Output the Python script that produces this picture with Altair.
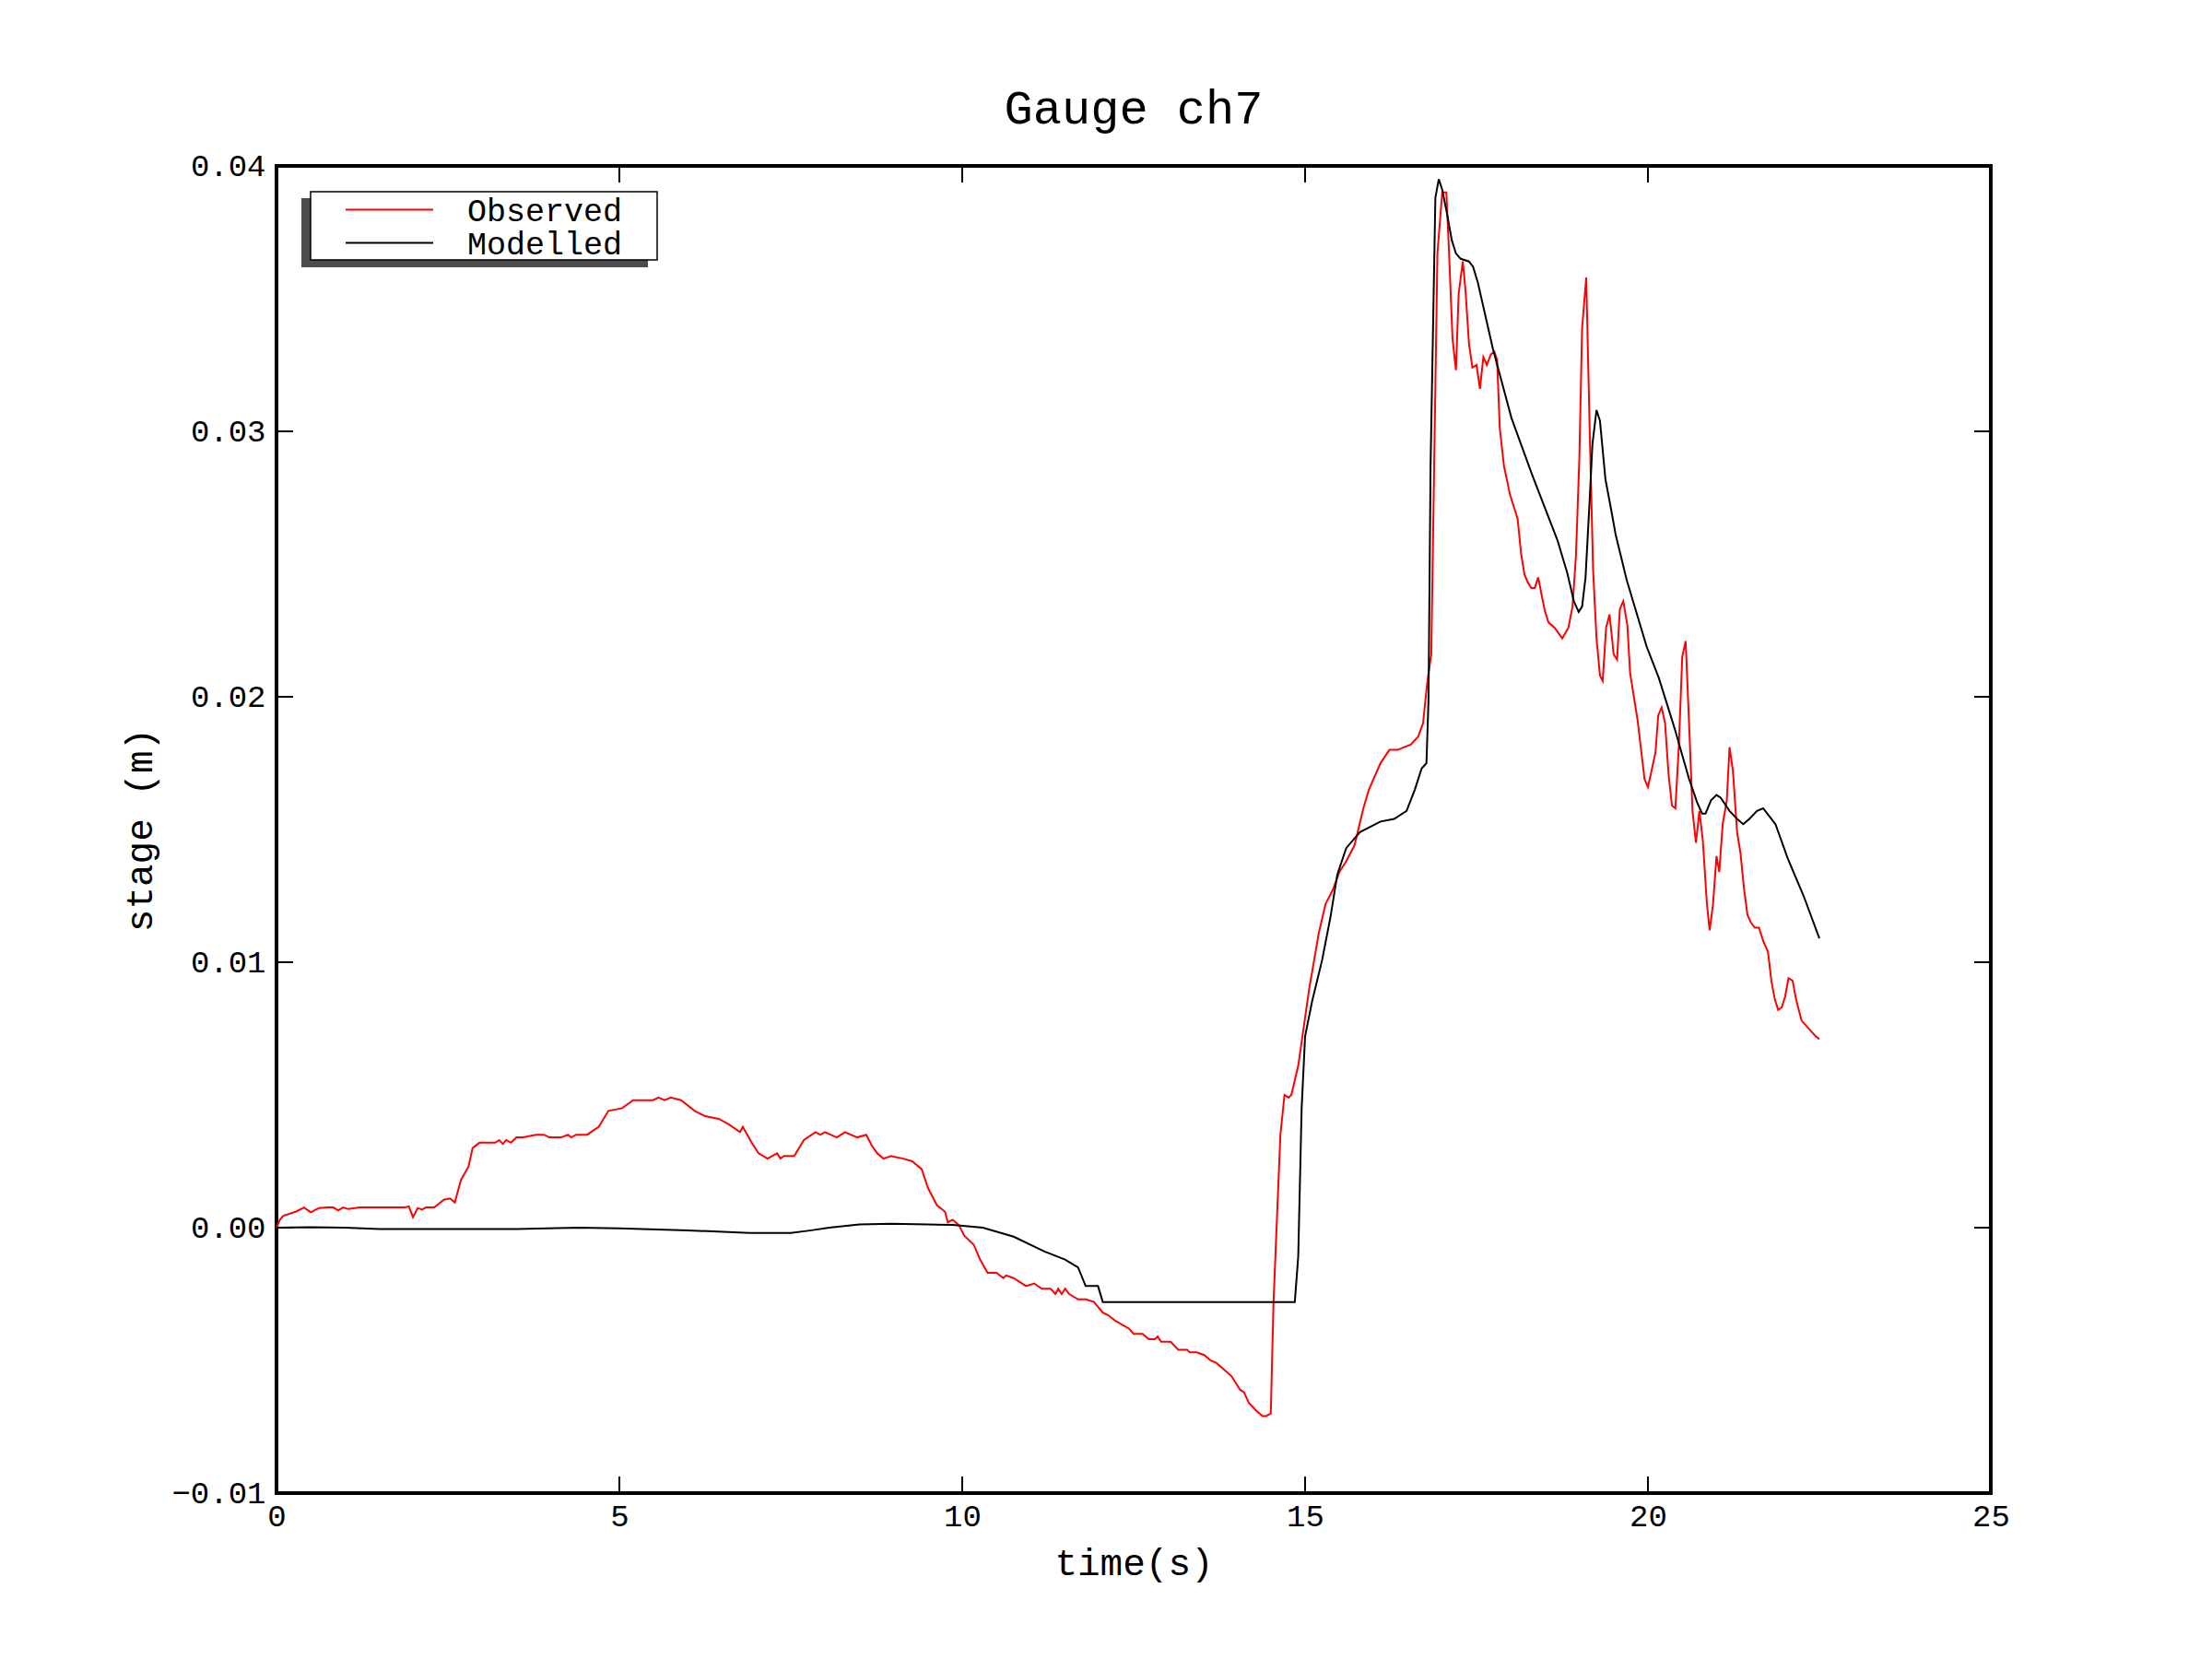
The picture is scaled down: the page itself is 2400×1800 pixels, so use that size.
import altair as alt
import pandas as pd

# ---------------- data ----------------
obs_t = [0.0, 0.05, 0.1, 0.28, 0.4, 0.5, 0.62, 0.75, 0.83, 0.9, 0.97, 1.05, 1.21, 1.86, 1.93, 1.99,
         2.06, 2.12, 2.18, 2.3, 2.44, 2.53, 2.6, 2.69, 2.8, 2.86, 2.96, 3.19, 3.25, 3.3, 3.35, 3.42,
         3.5, 3.6, 3.78, 3.9, 3.98, 4.15, 4.25, 4.3, 4.37, 4.45, 4.53, 4.7, 4.84, 5.04, 5.2, 5.49,
         5.57, 5.66, 5.75, 5.9, 6.1, 6.25, 6.45, 6.59, 6.76, 6.8, 6.93, 7.03, 7.16, 7.3, 7.35, 7.4,
         7.55, 7.69, 7.86, 7.93, 8.0, 8.17, 8.29, 8.47, 8.6, 8.68, 8.76, 8.85, 8.96, 9.14, 9.27,
         9.41, 9.5, 9.63, 9.75, 9.79, 9.86, 9.95, 10.03, 10.17, 10.26, 10.37, 10.5, 10.6, 10.64,
         10.75, 10.93, 11.05, 11.16, 11.29, 11.36, 11.4, 11.45, 11.5, 11.56, 11.69, 11.8, 11.92,
         12.05, 12.13, 12.23, 12.43, 12.5, 12.63, 12.72, 12.81, 12.85, 12.9, 13.04, 13.15, 13.28,
         13.32, 13.42, 13.53, 13.62, 13.71, 13.93, 14.05, 14.11, 14.18, 14.29, 14.38, 14.43, 14.5,
         14.54, 14.64, 14.7, 14.76, 14.8, 14.9, 15.06, 15.2, 15.3, 15.4, 15.5, 15.6, 15.72, 15.85,
         15.93, 16.1, 16.23, 16.35, 16.54, 16.65, 16.72, 16.78, 16.84, 16.93, 17.0, 17.06, 17.1,
         17.15, 17.2, 17.24, 17.3, 17.34, 17.39, 17.44, 17.5, 17.55, 17.6, 17.65, 17.71, 17.76,
         17.8, 17.84, 17.9, 17.99, 18.1, 18.15, 18.2, 18.25, 18.3, 18.35, 18.4, 18.46, 18.5, 18.55,
         18.64, 18.75, 18.84, 18.9, 18.95, 19.0, 19.04, 19.1, 19.15, 19.2, 19.25, 19.3, 19.34,
         19.39, 19.44, 19.5, 19.55, 19.59, 19.64, 19.7, 19.74, 19.85, 19.95, 20.0, 20.06, 20.11,
         20.15, 20.2, 20.25, 20.3, 20.35, 20.4, 20.45, 20.5, 20.55, 20.6, 20.65, 20.7, 20.75, 20.8,
         20.86, 20.9, 20.95, 21.0, 21.04, 21.09, 21.15, 21.19, 21.24, 21.3, 21.35, 21.4, 21.45,
         21.5, 21.56, 21.62, 21.68, 21.75, 21.8, 21.85, 21.9, 21.95, 22.0, 22.05, 22.11, 22.16,
         22.24, 22.38, 22.45, 22.5]
obs_v = [0.0, 0.0003, 0.00045, 0.0006, 0.00076, 0.00058, 0.00074, 0.00076, 0.00076, 0.00065,
         0.00076, 0.0007, 0.00076, 0.00076, 0.0008, 0.0004, 0.00074, 0.00068, 0.00076, 0.00076,
         0.00105, 0.0011, 0.00095, 0.0018, 0.0023, 0.0030, 0.0032, 0.0032, 0.0033, 0.00315, 0.0033,
         0.0032, 0.0034, 0.0034, 0.0035, 0.0035, 0.0034, 0.0034, 0.0035, 0.0034, 0.0035, 0.0035,
         0.0035, 0.0038, 0.0044, 0.0045, 0.0048, 0.0048, 0.0049, 0.0048, 0.0049, 0.0048, 0.0044,
         0.0042, 0.0041, 0.0039, 0.0036, 0.0038, 0.0032, 0.0028, 0.0026, 0.0028, 0.0026, 0.0027,
         0.0027, 0.0033, 0.0036, 0.0035, 0.0036, 0.0034, 0.0036, 0.0034, 0.0035, 0.0031, 0.0028,
         0.0026, 0.0027, 0.0026, 0.0025, 0.0022, 0.0015, 0.00085, 0.0006, 0.0002, 0.0003, 0.0001,
         -0.0003, -0.00065, -0.0012, -0.0017, -0.0017, -0.0019, -0.0018, -0.0019, -0.0022, -0.0021,
         -0.0023, -0.0023, -0.0025, -0.0023, -0.0025, -0.0023, -0.0025, -0.0027, -0.0027, -0.0028,
         -0.0032, -0.0033, -0.0035, -0.0038, -0.004, -0.004, -0.0042, -0.0042, -0.0041, -0.0043,
         -0.0043, -0.0046, -0.0046, -0.0047, -0.0047, -0.0048, -0.005, -0.0051, -0.0056, -0.0061,
         -0.0062, -0.0066, -0.0069, -0.0071, -0.0071, -0.0070, -0.0028, 0.0035, 0.005, 0.0049,
         0.005, 0.0061, 0.009, 0.0111, 0.0122, 0.0127, 0.0134, 0.0138, 0.0144, 0.0158, 0.0165,
         0.0175, 0.018, 0.018, 0.0182, 0.0185, 0.019, 0.0205, 0.0216, 0.0367, 0.039, 0.039, 0.0367,
         0.0335, 0.0323, 0.0352, 0.0364, 0.0353, 0.0333, 0.0324, 0.0325, 0.0316, 0.0328, 0.0325,
         0.0329, 0.033, 0.0327, 0.0301, 0.0287, 0.0276, 0.0267, 0.0254, 0.0246, 0.0243, 0.0241,
         0.0241, 0.0245, 0.0237, 0.0232, 0.0228, 0.0226, 0.0222, 0.0226, 0.0234, 0.0253, 0.029,
         0.0339, 0.0358, 0.0301, 0.0248, 0.0222, 0.0208, 0.0206, 0.0226, 0.0231, 0.0216, 0.0214,
         0.0233, 0.0236, 0.0227, 0.0209, 0.0191, 0.0169, 0.0166, 0.0173, 0.0179, 0.0193, 0.0196,
         0.019, 0.0171, 0.0159, 0.0158, 0.0181, 0.0215, 0.0221, 0.019, 0.0157, 0.0145, 0.0157,
         0.0146, 0.0122, 0.0112, 0.0122, 0.014, 0.0134, 0.0152, 0.0161, 0.0181, 0.0172, 0.0149,
         0.0141, 0.0128, 0.0118, 0.0115, 0.0113, 0.0113, 0.0108, 0.0104, 0.0093, 0.0086, 0.0082,
         0.0083, 0.0087, 0.0094, 0.0093, 0.0086, 0.0078, 0.0074, 0.0072, 0.0071]

mod_t = [0.0, 0.5, 1.0, 1.5, 2.5, 3.5, 4.4, 5.0, 6.0, 6.9, 7.5, 7.8, 8.06, 8.5, 8.96, 9.5, 9.86,
         10.3, 10.75, 11.2, 11.5, 11.69, 11.8, 11.98, 12.05, 14.85, 14.9, 14.95, 15.0, 15.1,
         15.25, 15.37, 15.47, 15.6, 15.8, 16.1, 16.3, 16.48, 16.6, 16.7, 16.77, 16.8, 16.83, 16.9,
         16.95, 17.0, 17.07, 17.14, 17.2, 17.27, 17.39, 17.45, 17.52, 17.74, 18.01, 18.32, 18.68,
         18.82, 18.92, 18.99, 19.04, 19.09, 19.15, 19.19, 19.25, 19.3, 19.38, 19.46, 19.53, 19.69,
         19.98, 20.16, 20.39, 20.6, 20.72, 20.79, 20.84, 20.92, 21.0, 21.06, 21.19, 21.3, 21.39,
         21.48, 21.59, 21.68, 21.77, 21.86, 22.04, 22.27, 22.5]
mod_v = [0.0, 0.00002, 0.0, -0.00005, -0.00005, -0.00005, 0.0, -0.00003, -0.0001, -0.0002,
         -0.0002, -0.0001, 0.0, 0.00012, 0.00015, 0.00012, 0.0001, 0.0, -0.00034, -0.0009,
         -0.0012, -0.0015, -0.0022, -0.0022, -0.0028, -0.0028, -0.0011, 0.0045, 0.0072, 0.0085,
         0.0101, 0.0117, 0.0133, 0.0143, 0.0149, 0.0153, 0.0154, 0.0157, 0.0165, 0.0173, 0.0175,
         0.0199, 0.0287, 0.0388, 0.0395, 0.0391, 0.0382, 0.0372, 0.0367, 0.0365, 0.0364, 0.0362,
         0.0356, 0.0331, 0.0305, 0.0283, 0.0259, 0.0247, 0.0236, 0.0232, 0.0234, 0.0245, 0.0274,
         0.0295, 0.0308, 0.0304, 0.0282, 0.0271, 0.0261, 0.0244, 0.0219, 0.0207, 0.0188, 0.0169,
         0.016, 0.0156, 0.0156, 0.0161, 0.0163, 0.0162, 0.0157, 0.0154, 0.0152, 0.0154, 0.0157,
         0.0158, 0.0155, 0.0152, 0.0139, 0.0125, 0.0109]

series_names = ["Observed", "Modelled"]
series_colors = ["#ff0000", "#000000"]
x_ticks = [0, 5, 10, 15, 20, 25]
y_ticks = [-0.01, 0.0, 0.01, 0.02, 0.03, 0.04]

title_text = "Gauge ch7"
x_title = "time(s)"
y_title = "stage (m)"

# ---------------- build ----------------
df = pd.concat([
    pd.DataFrame({"t": obs_t, "v": obs_v, "series": series_names[0], "k": range(len(obs_t))}),
    pd.DataFrame({"t": mod_t, "v": mod_v, "series": series_names[1], "k": range(len(mod_t))}),
])

W, H = 1860, 1440
FONT = "Liberation Mono"
TICK = 18

xs = alt.Scale(domain=[0, 25], nice=False, zero=False)
ys = alt.Scale(domain=[-0.01, 0.04], nice=False, zero=False)
x_axis = alt.Axis(values=x_ticks, format="d", title=x_title, labelPadding=8, titlePadding=14,
                  labelFlush=False)
y_axis = alt.Axis(values=y_ticks, format=".2f", title=y_title, labelPadding=12, titlePadding=12,
                  labelFlush=False)
color_scale = alt.Scale(domain=series_names, range=series_colors)

lines = alt.Chart(df).mark_line(strokeWidth=2).encode(
    x=alt.X("t:Q", scale=xs, axis=x_axis),
    y=alt.Y("v:Q", scale=ys, axis=y_axis),
    color=alt.Color("series:N", scale=color_scale, legend=None),
    detail="series:N",
    order="k:Q",
)

xt = alt.Chart(pd.DataFrame({"t": x_ticks}))
yt = alt.Chart(pd.DataFrame({"v": y_ticks}))
rule_kw = dict(color="black", strokeWidth=2)
tick_bottom = xt.mark_rule(**rule_kw).encode(
    x=alt.X("t:Q", scale=xs, axis=x_axis), y=alt.value(H), y2=alt.value(H - TICK))
tick_top = xt.mark_rule(**rule_kw).encode(
    x=alt.X("t:Q", scale=xs, axis=x_axis), y=alt.value(0), y2=alt.value(TICK))
tick_left = yt.mark_rule(**rule_kw).encode(
    y=alt.Y("v:Q", scale=ys, axis=y_axis), x=alt.value(0), x2=alt.value(TICK))
tick_right = yt.mark_rule(**rule_kw).encode(
    y=alt.Y("v:Q", scale=ys, axis=y_axis), x=alt.value(W), x2=alt.value(W - TICK))

# ---- legend box (drawn as marks, top-left inside the frame) ----
one = alt.Chart(pd.DataFrame({"s": [0]}))
shadow = one.mark_rect(color="#4d4d4d").encode(
    x=alt.value(27), x2=alt.value(403), y=alt.value(35), y2=alt.value(110))
box = one.mark_rect(fill="white", stroke="black", strokeWidth=1.5).encode(
    x=alt.value(37), x2=alt.value(413), y=alt.value(28), y2=alt.value(102))
leg_layers = [shadow, box]
for i, (name, col) in enumerate(zip(series_names, series_colors)):
    ry = 47.5 + 36 * i
    leg_layers.append(one.mark_rule(color=col, strokeWidth=2).encode(
        x=alt.value(75), x2=alt.value(170), y=alt.value(ry)))
    leg_layers.append(one.mark_text(text=name, font=FONT, fontSize=35, color="black",
                                    align="left", baseline="middle").encode(
        x=alt.value(207), y=alt.value(ry + 1)))

chart = alt.layer(
    tick_bottom, tick_top, tick_left, tick_right, lines, *leg_layers
).properties(
    width=W, height=H,
    background="white",
    title=alt.TitleParams(title_text, font=FONT, fontSize=52, fontWeight="normal",
                          color="black", anchor="middle", offset=18),
    autosize=alt.AutoSizeParams(type="none"),
    padding={"left": 292, "top": 172, "right": 232, "bottom": 172},
).configure_view(
    stroke="black", strokeWidth=4
).configure_axis(
    grid=False, domain=False, ticks=False, tickSize=0,
    labelFont=FONT, labelFontSize=34, labelColor="black",
    titleFont=FONT, titleFontSize=41, titleFontWeight="normal", titleColor="black",
)

chart.save("out.html", embed_options={"renderer": "svg", "actions": False})
